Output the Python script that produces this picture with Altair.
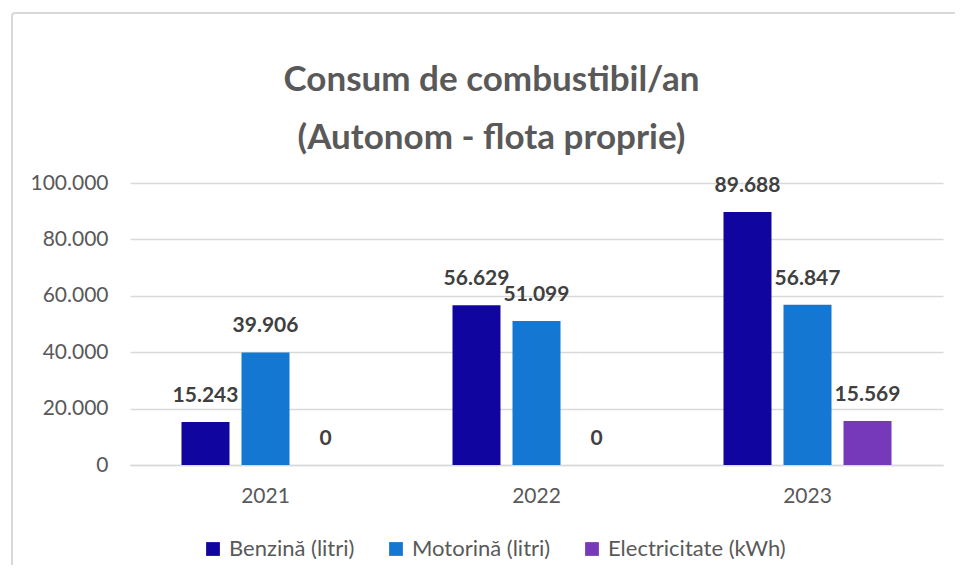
import altair as alt
import pandas as pd

years = ["2021", "2022", "2023"]
series = ["Benzină (litri)", "Motorină (litri)", "Electricitate (kWh)"]
benzina = [15243, 56629, 89688]
motorina = [39906, 51099, 56847]
electricitate = [0, 0, 15569]
colors = ["#10069F", "#1478D2", "#7639BA"]
y_ticks = [0, 20000, 40000, 60000, 80000, 100000]
title_lines = ["Consum de combustibil/an", "(Autonom - flota proprie)"]

rows = []
for s, vals in zip(series, [benzina, motorina, electricitate]):
    for yr, v in zip(years, vals):
        rows.append({"an": yr, "serie": s, "valoare": v})
df = pd.DataFrame(rows)

W, H = 813, 282
FONT = "Lato"

x = alt.X("an:N", title=None,
          scale=alt.Scale(paddingInner=0.38, paddingOuter=0.19),
          axis=alt.Axis(labelAngle=0, ticks=False, domainColor="#d9d9d9", domainWidth=1.5,
                        labelFontSize=21, labelColor="#595959", labelFont=FONT, labelPadding=20))
xo = alt.XOffset("serie:N", sort=series, scale=alt.Scale(paddingInner=0.2, paddingOuter=0))
y = alt.Y("valoare:Q", title=None,
          scale=alt.Scale(domain=[0, 100000]),
          axis=alt.Axis(values=y_ticks, format=",.0f", ticks=False, domain=False,
                        gridColor="#d9d9d9", gridWidth=1.5,
                        labelFontSize=21, labelColor="#595959", labelFont=FONT, labelPadding=22))
color = alt.Color("serie:N", sort=series,
                  scale=alt.Scale(domain=series, range=colors),
                  legend=alt.Legend(title=None, orient="none", legendX=72, legendY=355,
                                    direction="horizontal", symbolType="square", symbolSize=190,
                                    symbolStrokeWidth=0, labelOffset=5, columnPadding=30,
                                    labelLimit=400,
                                    labelFontSize=22, labelColor="#595959", labelFont=FONT))

base = alt.Chart(df)
bars = base.mark_bar().encode(x=x, xOffset=xo, y=y, color=color)
labels = base.mark_text(fontWeight="bold", fontSize=21, color="#404040", font=FONT,
                        baseline="middle", dy=-26).encode(
    x=x, xOffset=xo, y=y, text=alt.Text("valoare:Q", format=",.0f"))

border = alt.Chart(pd.DataFrame({"k": [0]})).mark_rect(
    fill=None, stroke="#d9d9d9", strokeWidth=2, cornerRadius=3).encode(
    x=alt.value(-118), x2=alt.value(860), y=alt.value(-170), y2=alt.value(420))

t1 = alt.Chart(pd.DataFrame({"t": [title_lines[0]]})).mark_text(
    fontSize=35, font=FONT, fontWeight="bold", color="#595959", baseline="middle", align="center"
).encode(text="t:N", x=alt.value(W / 2 - 45), y=alt.value(-103))
t2 = alt.Chart(pd.DataFrame({"t": [title_lines[1]]})).mark_text(
    fontSize=35, font=FONT, fontWeight="bold", color="#595959", baseline="middle", align="center"
).encode(text="t:N", x=alt.value(W / 2 - 45), y=alt.value(-45))

chart = alt.layer(border, bars, labels, t1, t2).properties(
    width=W, height=H,
    autosize=alt.AutoSizeParams(type="none"),
    padding={"left": 122, "top": 175, "right": 12, "bottom": 100},
).configure_view(stroke=None)

chart.save("out.html", embed_options={"renderer": "svg", "actions": False,
                                      "formatLocale": {"decimal": ",", "thousands": ".",
                                                       "grouping": [3], "currency": ["", ""]}})
